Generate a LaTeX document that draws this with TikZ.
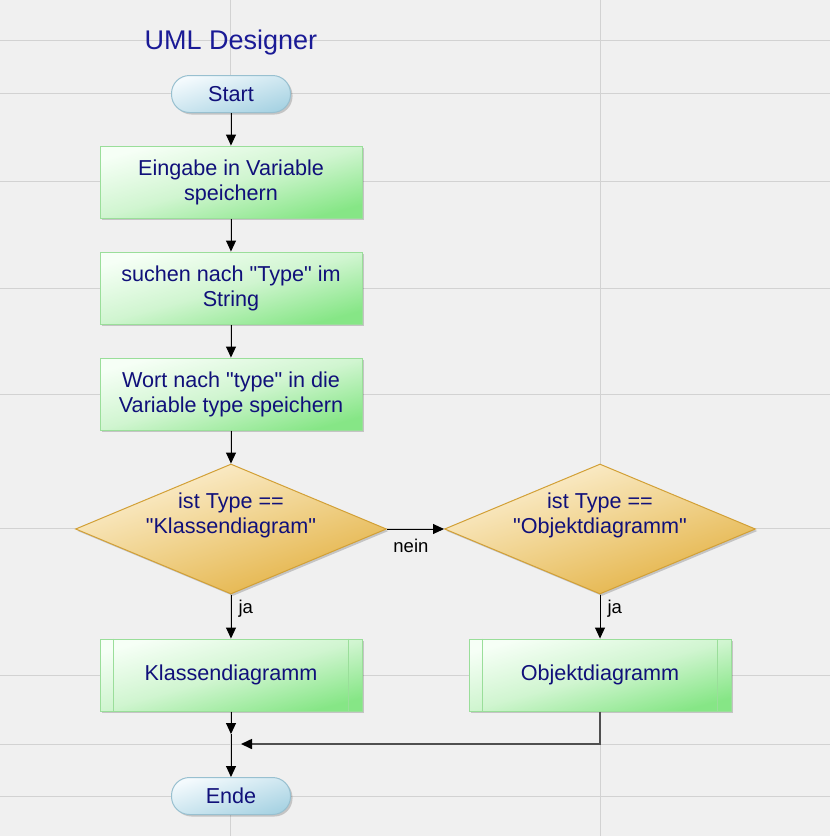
\documentclass[tikz,border=0pt]{standalone}
\usepackage{fontspec}
\setmainfont{Liberation Sans}
\usetikzlibrary{arrows.meta,shapes.geometric,shadows}
\definecolor{bg}{HTML}{F0F0F0}
\definecolor{gridc}{HTML}{D2D2D2}
\definecolor{txt}{HTML}{10107A}
\definecolor{ttl}{HTML}{1A1A96}
\definecolor{gtop}{HTML}{F6FFF6}
\definecolor{gmid}{HTML}{D0F5D0}
\definecolor{gbot}{HTML}{86E686}
\definecolor{gbrd}{HTML}{9ADE9A}
\definecolor{ytop}{HTML}{FDF2D8}
\definecolor{ymid}{HTML}{F0D28C}
\definecolor{ybot}{HTML}{E3B040}
\definecolor{ybrd}{HTML}{D2A036}
\definecolor{btop}{HTML}{F4FAFD}
\definecolor{bbot}{HTML}{A8D3E3}
\definecolor{bbrd}{HTML}{98C0D0}
\definecolor{mrg}{HTML}{505050}
\begin{document}
\begin{tikzpicture}[x=1pt,y=-1pt,
  every node/.style={font=\fontsize{21.6}{25}\selectfont, text=txt, align=center, inner sep=0pt},
  shadowed/.style={drop shadow={shadow xshift=2pt, shadow yshift=-2pt, fill=black, opacity=0.18}},
  terminal/.style={rectangle, rounded corners=18pt, minimum width=119pt, minimum height=37pt,
    draw=bbrd, line width=1pt, top color=btop, bottom color=bbot, shading angle=17, shadowed},
  procbox/.style={rectangle, minimum width=262pt, minimum height=72pt, draw=gbrd, line width=1pt,
    top color=gtop, bottom color=gbot, middle color=gmid, shading angle=15, shadowed},
  decision/.style={diamond, aspect=2.4, minimum width=311pt, minimum height=130pt, draw=ybrd, line width=1pt,
    top color=ytop, bottom color=ybot, middle color=ymid, shading angle=18, shadowed},
  subline/.style={draw=gbrd, line width=1pt},
  flow/.style={draw=black, line width=1pt, -{Triangle[length=11pt,width=10pt]}},
  flowg/.style={draw=mrg, line width=1.6pt, -{Triangle[length=11pt,width=10pt,color=black]}},
  lbl/.style={font=\fontsize{18.5}{22}\selectfont, text=black},
  titlestyle/.style={font=\fontsize{27}{32}\selectfont, text=ttl},
  gridline/.style={draw=gridc, line width=1pt},
]
\useasboundingbox (0,0) rectangle (830,836);
\fill[bg] (0,0) rectangle (830,836);
\foreach \yy in {40,93,181,288,394,528,675,744,796}
  \draw[gridline] (0,\yy) -- (830,\yy);
\foreach \xx in {230.5,600}
  \draw[gridline] (\xx,0) -- (\xx,836);

\node[titlestyle] (title) at (231,43) {UML Designer};
\node[terminal] (start) at (231,94) {Start};
\node[procbox] (b1) at (231,182) {Eingabe in Variable\\speichern};
\node[procbox] (b2) at (231,288) {suchen nach \textquotedbl Type\textquotedbl{} im\\String};
\node[procbox] (b3) at (231,394) {Wort nach \textquotedbl type\textquotedbl{} in die\\Variable type speichern};
\node[decision] (d1) at (231,529) {\raisebox{8pt}[0pt][0pt]{\begin{tabular}{@{}c@{}}ist Type ==\\\textquotedbl Klassendiagram\textquotedbl\end{tabular}}};
\node[decision] (d2) at (600,529) {\raisebox{8pt}[0pt][0pt]{\begin{tabular}{@{}c@{}}ist Type ==\\\textquotedbl Objektdiagramm\textquotedbl\end{tabular}}};
\node[procbox] (k) at (231,675) {Klassendiagramm};
\node[procbox] (o) at (600,675) {Objektdiagramm};
\draw[subline] ([xshift=14pt]k.north west) -- ([xshift=14pt]k.south west);
\draw[subline] ([xshift=-14pt]k.north east) -- ([xshift=-14pt]k.south east);
\draw[subline] ([xshift=14pt]o.north west) -- ([xshift=14pt]o.south west);
\draw[subline] ([xshift=-14pt]o.north east) -- ([xshift=-14pt]o.south east);
\node[terminal] (ende) at (231,796) {Ende};

\coordinate (m1) at (231,734);
\coordinate (m2) at (241,744);

\draw[flow] (start) -- (b1);
\draw[flow] (b1) -- (b2);
\draw[flow] (b2) -- (b3);
\draw[flow] (b3) -- (d1);
\draw[flow] (d1.east) -- node[lbl, below=10pt, pos=0.42] {nein} (d2.west);
\draw[flow] (d1.south) -- node[lbl, right=7pt, pos=0.33] {ja} (k.north);
\draw[flow] (d2.south) -- node[lbl, right=7pt, pos=0.33] {ja} (o.north);
\draw[flow] (k) -- (m1);
\draw[flow] (m1) -- (ende);
\draw[flowg] (o.south) |- (m2);
\end{tikzpicture}
\end{document}
